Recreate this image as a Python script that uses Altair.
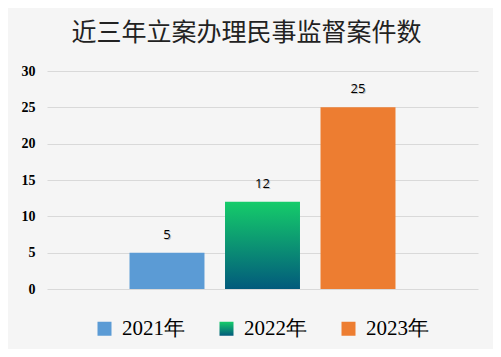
import altair as alt
import pandas as pd

years = ["2021年", "2022年", "2023年"]
counts = [5, 12, 25]
y_ticks = [0, 5, 10, 15, 20, 25, 30]
title_text = "近三年立案办理民事监督案件数"

df = pd.DataFrame({"year": years, "count": counts})

grad = ("{gradient:'linear',x1:0,y1:0,x2:0,y2:1,"
        "stops:[{offset:0,color:'#15cc6a'},{offset:1,color:'#025a7c'}]}")

color_scale = alt.Scale(domain=years,
                        range=["#5b9bd5", alt.ExprRef(grad), "#ed7d31"])

serif = "'Liberation Serif', 'Times New Roman', serif"

x_enc = alt.X("year:N", axis=None, sort=years,
              scale=alt.Scale(paddingInner=0.215, paddingOuter=0.864))
y_enc = alt.Y("count:Q",
              scale=alt.Scale(domain=[0, 30], nice=False),
              axis=alt.Axis(values=y_ticks, title=None, domain=False, ticks=False,
                            labelFont=serif, labelFontWeight="bold",
                            labelFontSize=14, labelColor="#000000", labelPadding=12,
                            gridColor="#d9d9d9", gridWidth=1))

bars = alt.Chart(df).mark_bar().encode(
    x=x_enc,
    y=y_enc,
    color=alt.Color("year:N", scale=color_scale,
                    legend=alt.Legend(title=None, orient="none", direction="horizontal",
                                      legendX=47, legendY=247,
                                      symbolType="square", symbolSize=196,
                                      symbolStrokeWidth=0,
                                      labelFont=serif,
                                      labelFontSize=21, labelColor="#000000",
                                      labelOffset=7, columnPadding=31, padding=0)),
)

shadow = alt.Chart(df).mark_text(
    font="Open Sans", fontSize=13, color="#9a9a9a", opacity=0.6,
    baseline="middle", dx=1, dy=-17
).encode(x=x_enc, y=y_enc, text="count:Q")

labels = alt.Chart(df).mark_text(
    font="Open Sans", fontSize=13, color="#000000",
    baseline="middle", dy=-18
).encode(x=x_enc, y=y_enc, text="count:Q")

chart = alt.layer(bars, shadow, labels).properties(
    width=431, height=218,
    title=alt.TitleParams(title_text, font="Noto Sans CJK SC", fontSize=25,
                          fontWeight="normal", color="#222222", offset=18,
                          anchor="middle", dx=-16),
    background="#f5f5f5",
    padding={"left": 39, "top": 63, "right": 15, "bottom": 60},
    autosize=alt.AutoSizeParams(type="none"),
).configure_view(stroke=None)

chart.save("out.html", embed_options={"renderer": "svg", "actions": False})
